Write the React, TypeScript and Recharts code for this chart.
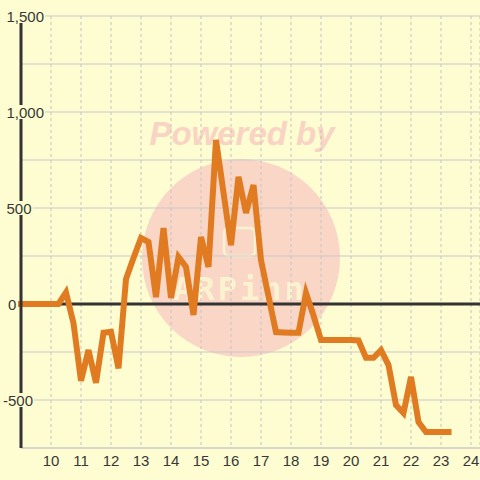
import React from "react";
import { LineChart, Line, XAxis, YAxis, CartesianGrid, ReferenceLine } from "recharts";

const times = [
  9, 9.25, 9.5, 9.75, 10, 10.25, 10.5, 10.75, 11, 11.25, 11.5, 11.75, 12, 12.25, 12.5, 12.75,
  13, 13.25, 13.5, 13.75, 14, 14.25, 14.5, 14.75, 15, 15.25, 15.5, 15.75, 16, 16.25, 16.5, 16.75,
  17, 17.25, 17.5, 17.75, 18, 18.25, 18.5, 18.75, 19, 19.25, 19.5, 19.75, 20, 20.25, 20.5, 20.75,
  21, 21.25, 21.5, 21.75, 22, 22.25, 22.5, 22.75, 23, 23.25,
];
const values = [
  0, 0, 0, 0, 0, 0, 60, -100, -400, -240, -410, -150, -145, -335, 130, 240,
  344, 323, 36, 396, 31, 245, 193, -57, 349, 193, 854, 580, 307, 662, 474, 620,
  229, 40, -146, -148, -150, -150, 57, -60, -188, -188, -188, -188, -188, -190, -280, -280,
  -240, -318, -526, -568, -380, -615, -667, -667, -667, -667,
];
const xTicks = [10, 11, 12, 13, 14, 15, 16, 17, 18, 19, 20, 21, 22, 23, 24];
const yTicks = [-750, -500, -250, 0, 250, 500, 750, 1000, 1250, 1500];
const yLabelled = [-500, 0, 500, 1000, 1500];

const data = times.map((t, i) => ({ t, v: values[i] }));

const BG = "#fdfdd1";
const FONT = "'Liberation Sans', Arial, sans-serif";
const TEXT = "#383838";

const charW = (c: string) => (c === "," ? 4.17 : c === "-" ? 5 : 8.34);

const YTick = (props: any) => {
  const { y, payload } = props;
  const v = payload.value;
  if (!yLabelled.includes(v)) return <g />;
  const label = v.toLocaleString("en-US");
  const w = label.split("").reduce((s: number, c: string) => s + charW(c), 0);
  const start = v < 0 ? 3 : v === 0 ? 8 : 6.5;
  return (
    <g>
      <rect x={start - 1} y={y - 7} width={w + 2} height={14} fill={BG} />
      <text x={start} y={y} dy={5.5} fontSize={15} fontFamily={FONT} fill={TEXT} textAnchor="start">
        {label}
      </text>
    </g>
  );
};

const XTick = (props: any) => {
  const { x, y, payload } = props;
  return (
    <text x={x} y={y} dy={18} fontSize={15} fontFamily={FONT} fill={TEXT} textAnchor="middle">
      {payload.value}
    </text>
  );
};

export default function App() {
  return (
    <div style={{ position: "fixed", left: 0, top: 0, width: 480, height: 480, background: BG }}>
      <svg width={480} height={480} style={{ position: "absolute", left: 0, top: 0 }}>
        <circle cx={241} cy={258} r={99} fill="#f9d6c6" />
        <text
          x={242}
          y={145}
          fontSize={33}
          fontWeight="bold"
          fontStyle="italic"
          fontFamily={FONT}
          fill="#f9d3c3"
          textAnchor="middle"
        >
          Powered by
        </text>
        <rect x={224} y={228} width={31} height={28} rx={5} fill="none" stroke="#fbf3cf" strokeWidth={2.5} />
        <text
          x={240}
          y={300}
          fontSize={32}
          fontWeight="bold"
          fontFamily="'DejaVu Sans Mono', monospace"
          fill="#fbf3cf"
          textAnchor="middle"
          letterSpacing={3}
        >
          ARPinn
        </text>
      </svg>
      <div style={{ position: "absolute", left: 0, top: 0 }}>
        <LineChart width={480} height={480} data={data} margin={{ top: 16, right: 0, bottom: 0, left: 0 }}>
          <CartesianGrid vertical={false} stroke="#c9c9c9" strokeWidth={1} />
          <CartesianGrid horizontal={false} stroke="#c4c4c4" strokeWidth={1} strokeDasharray="3 3" />
          <XAxis
            dataKey="t"
            type="number"
            domain={[9, 24.3]}
            ticks={xTicks}
            height={32}
            tickLine={false}
            tickSize={0}
            tickMargin={0}
            axisLine={{ stroke: "#c9c9c9", strokeWidth: 1 }}
            tick={(p: any) => <XTick {...p} />}
            interval={0}
          />
          <YAxis
            type="number"
            domain={[-750, 1500]}
            ticks={yTicks}
            width={21}
            tickLine={false}
            tickSize={0}
            tickMargin={0}
            axisLine={{ stroke: "#333333", strokeWidth: 3 }}
            tick={(p: any) => <YTick {...p} />}
            interval={0}
          />
          <ReferenceLine y={0} stroke="#333333" strokeWidth={3} />
          <Line
            type="linear"
            dataKey="v"
            stroke="#e07b22"
            strokeWidth={6}
            strokeLinecap="square"
            dot={false}
            activeDot={false}
            isAnimationActive={false}
          />
        </LineChart>
      </div>
    </div>
  );
}
